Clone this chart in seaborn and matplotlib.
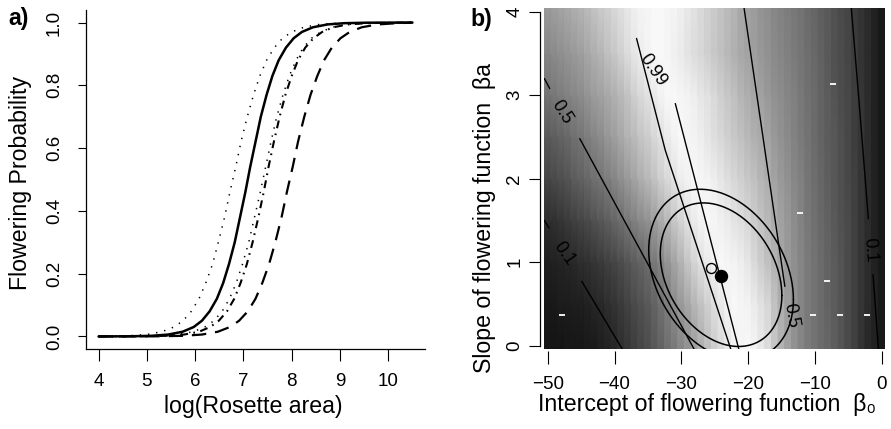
import numpy as np
import matplotlib
matplotlib.use("Agg")
import matplotlib.pyplot as plt
import seaborn as sns

sns.set_theme(style="ticks", rc={
    "axes.edgecolor": "black", "xtick.color": "black", "ytick.color": "black",
    "text.color": "black", "axes.labelcolor": "black", "axes.linewidth": 0.9,
})
plt.rcParams["font.family"] = ["Liberation Sans", "DejaVu Sans"]

# --- panel a: flowering probability curves (x where each curve reaches a level) ---
prob_levels = [0.0, 0.0005, 0.002, 0.006, 0.015, 0.03, 0.05, 0.08, 0.12, 0.17,
               0.23, 0.3, 0.38, 0.46, 0.54, 0.62, 0.7, 0.77, 0.83, 0.88,
               0.92, 0.95, 0.97, 0.985, 0.994, 0.998, 0.9995, 1.0]
x_dotted_left = [4.0, 4.11, 4.60, 4.99, 5.31, 5.56, 5.75, 5.92, 6.08, 6.22,
                 6.36, 6.48, 6.61, 6.72, 6.84, 6.95, 7.08, 7.21, 7.34, 7.48,
                 7.64, 7.81, 8.00, 8.25, 8.57, 8.96, 9.45, 10.5]
x_solid = [4.0, 4.64, 5.09, 5.44, 5.74, 5.97, 6.14, 6.30, 6.45, 6.58,
           6.70, 6.82, 6.93, 7.04, 7.14, 7.25, 7.36, 7.48, 7.60, 7.73,
           7.88, 8.04, 8.21, 8.44, 8.74, 9.09, 9.54, 10.5]
x_dotted_right = [4.0, 4.78, 5.26, 5.64, 5.96, 6.20, 6.39, 6.56, 6.71, 6.85,
                  6.98, 7.11, 7.23, 7.35, 7.46, 7.57, 7.69, 7.82, 7.95, 8.09,
                  8.24, 8.41, 8.60, 8.84, 9.16, 9.54, 10.02, 10.5]
x_dotdash = [4.0, 4.94, 5.40, 5.77, 6.08, 6.31, 6.49, 6.66, 6.81, 6.94,
             7.07, 7.19, 7.31, 7.42, 7.52, 7.63, 7.75, 7.87, 8.00, 8.13,
             8.28, 8.45, 8.63, 8.86, 9.17, 9.54, 10.0, 10.5]
x_dashed = [4.0, 5.25, 5.74, 6.14, 6.47, 6.72, 6.91, 7.09, 7.25, 7.39,
            7.53, 7.66, 7.79, 7.90, 8.02, 8.13, 8.26, 8.39, 8.53, 8.67,
            8.83, 9.01, 9.20, 9.45, 9.78, 10.18, 10.45, 10.5]

# --- panel b: grey surface (percent white), columns x=-50..0, rows y=0..4 ---
shade_x = list(range(-50, 1))
shade_y = [0, 0.5, 1, 1.5, 2, 2.5, 3, 3.5, 4]
shade = [
    [8, 8, 8, 9, 9, 9, 10, 10, 12, 13, 15, 18, 21, 24, 27, 30, 34, 38, 43, 47,
     52, 57, 62, 68, 74, 80, 85, 90, 94, 96, 97, 95, 91, 86, 78, 70, 63, 57, 52, 48,
     45, 42, 40, 37, 33, 29, 25, 20, 16, 13, 10],
    [10, 10, 11, 11, 12, 12, 13, 15, 16, 18, 20, 23, 26, 29, 32, 35, 39, 44, 49, 55,
     60, 65, 71, 76, 81, 87, 91, 95, 97, 96, 95, 92, 88, 84, 76, 68, 62, 57, 52, 48,
     45, 42, 39, 36, 33, 29, 25, 21, 17, 13, 10],
    [12, 13, 14, 15, 16, 18, 19, 21, 23, 25, 27, 30, 33, 36, 39, 42, 47, 52, 58, 64,
     70, 77, 83, 88, 92, 95, 97, 96, 95, 93, 90, 85, 80, 75, 70, 65, 60, 56, 52, 48,
     45, 42, 39, 36, 33, 29, 25, 21, 17, 13, 10],
    [18, 19, 21, 23, 25, 27, 29, 32, 34, 37, 40, 43, 47, 50, 54, 57, 62, 67, 72, 78,
     83, 88, 92, 95, 97, 96, 94, 92, 89, 87, 84, 80, 76, 72, 67, 63, 59, 55, 51, 47,
     44, 41, 38, 35, 32, 29, 25, 21, 17, 13, 10],
    [27, 29, 31, 33, 36, 38, 41, 44, 46, 49, 52, 56, 60, 64, 68, 72, 76, 81, 85, 89,
     93, 95, 97, 96, 95, 93, 90, 87, 84, 81, 78, 75, 71, 68, 64, 60, 57, 53, 50, 46,
     43, 40, 37, 34, 31, 28, 25, 21, 17, 13, 10],
    [35, 37, 39, 41, 44, 46, 49, 52, 55, 59, 62, 66, 70, 73, 77, 80, 84, 88, 92, 95,
     97, 96, 95, 93, 90, 87, 84, 81, 78, 75, 72, 69, 67, 64, 60, 57, 54, 51, 48, 45,
     42, 39, 36, 34, 31, 28, 24, 21, 17, 13, 10],
    [45, 47, 49, 51, 53, 55, 58, 61, 63, 66, 69, 72, 76, 81, 85, 88, 92, 95, 97, 97,
     96, 95, 93, 90, 88, 85, 81, 78, 75, 71, 68, 65, 63, 60, 57, 55, 52, 50, 47, 44,
     42, 39, 36, 33, 30, 28, 24, 21, 17, 13, 10],
    [52, 54, 56, 58, 60, 62, 65, 68, 71, 75, 78, 82, 86, 90, 93, 95, 97, 97, 96, 94,
     92, 89, 86, 84, 81, 78, 75, 72, 69, 66, 64, 62, 59, 57, 54, 52, 50, 48, 46, 43,
     41, 38, 35, 32, 30, 27, 24, 20, 17, 13, 10],
    [60, 62, 64, 66, 68, 70, 73, 76, 79, 81, 84, 87, 90, 93, 95, 96, 97, 97, 96, 95,
     93, 91, 88, 85, 82, 79, 76, 73, 70, 66, 63, 61, 58, 56, 53, 51, 49, 47, 45, 42,
     40, 37, 35, 32, 29, 27, 23, 20, 17, 13, 10],
]

# contour lines (x list, y list) and their labels (text, x, y, angle)
contour_lines = [
    ([-50.5, -49.7], [3.20, 3.08]),
    ([-45.2, -28.1], [2.48, -0.04]),
    ([-36.7, -32.4, -22.6], [3.68, 2.34, -0.04]),
    ([-30.9, -21.4], [2.90, -0.04]),
    ([-20.6, -14.5], [4.04, 0.71]),
    ([-50.5, -49.8], [1.50, 1.41]),
    ([-44.9, -38.85], [0.77, -0.04]),
    ([-4.55, -3.35, -2.0], [4.04, 2.88, 1.52]),
    ([-1.3, -0.5], [0.85, -0.04]),
]
contour_labels = [("0.5", -47.9, 2.80, -58), ("0.99", -34.3, 3.30, -56),
                  ("0.5", -13.6, 0.36, -80), ("0.1", -47.6, 1.10, -55),
                  ("0.1", -1.8, 1.15, -85)]

# confidence ellipses: centre, sd-like half widths, correlation, two radii
ell_center = (-24.05, 0.85)
ell_sx, ell_sy, ell_rho = 9.1, 0.86, -0.29
ell_scales = [1.0, 1.19]

mle_point = (-24.05, 0.835)
alt_point = (-25.55, 0.935)
tick_x = [-47.9, -12.3, -10.3, -8.2, -7.25, -6.24, -2.25]
tick_y = [0.37, 1.59, 0.37, 0.775, 3.13, 0.37, 0.37]

fig = plt.figure(figsize=(8.91, 4.29), dpi=100)

# ---------------- panel a ----------------
ax_a = fig.add_axes([86 / 891, 1 - 349 / 429, 339 / 891, 339 / 429])
sns.lineplot(x=x_dotted_left, y=prob_levels, ax=ax_a, color="black", lw=1.1,
             linestyle=(0, (0.9, 4.5)))
sns.lineplot(x=x_dotted_right, y=prob_levels, ax=ax_a, color="black", lw=1.1,
             linestyle=(0, (0.9, 4.5)))
sns.lineplot(x=x_dotdash, y=prob_levels, ax=ax_a, color="black", lw=1.5,
             linestyle=(0, (3.8, 2.6, 0.8, 2.6)))
sns.lineplot(x=x_dashed, y=prob_levels, ax=ax_a, color="black", lw=1.6,
             linestyle=(0, (6.5, 4.0)))
sns.lineplot(x=x_solid, y=prob_levels, ax=ax_a, color="black", lw=1.8)

ax_a.set_xlim(3.74, 10.76)
ax_a.set_ylim(-0.04, 1.04)
ax_a.set_xticks(range(4, 11))
ax_a.set_yticks([0, 0.2, 0.4, 0.6, 0.8, 1.0])
ax_a.set_yticklabels(["0.0", "0.2", "0.4", "0.6", "0.8", "1.0"])
ax_a.set_xlabel("")
ax_a.set_ylabel("")
ax_a.spines["top"].set_visible(False)
ax_a.spines["right"].set_visible(False)
ax_a.tick_params(axis="x", length=8.6, width=0.8, pad=9, labelsize=13.5)
ax_a.tick_params(axis="y", length=5.6, width=0.8, pad=11, labelsize=13.5,
                 labelrotation=90)
for lab in ax_a.get_yticklabels():
    lab.set_va("center")

# ---------------- panel b ----------------
ax_b = fig.add_axes([544.3 / 891, 1 - 349 / 429, 340.7 / 891, 340.6 / 429])
grey = np.repeat(np.array(shade) / 100.0, 2, axis=1)
xv = np.repeat(np.array(shade_x, dtype=float), 2)
xv[0::2] -= 0.5
xv[1::2] += 0.499
yv = np.array(shade_y, dtype=float)
yv[0], yv[-1] = -0.04, 4.04
ax_b.pcolormesh(xv, yv, grey, shading="gouraud", cmap="gray", vmin=0, vmax=1)

for xs, ys in contour_lines:
    ax_b.plot(xs, ys, color="black", lw=1.0)
for txt, tx, ty, ang in contour_labels:
    ax_b.text(tx, ty, txt, rotation=ang, rotation_mode="anchor",
              ha="center", va="center", fontsize=13)

t = np.linspace(0, 2 * np.pi, 300)
cov = np.array([[ell_sx ** 2, ell_rho * ell_sx * ell_sy],
                [ell_rho * ell_sx * ell_sy, ell_sy ** 2]])
chol = np.linalg.cholesky(cov)
for k in ell_scales:
    pts = k * chol @ np.vstack([np.cos(t), np.sin(t)])
    ax_b.plot(ell_center[0] + pts[0], ell_center[1] + pts[1], color="black", lw=1.1)

ax_b.plot(*alt_point, marker="o", ms=7.2, mfc="none", mec="black", mew=1.0)
ax_b.plot(*mle_point, marker="o", ms=8.6, color="black")
ax_b.plot(tick_x, tick_y, ls="none", marker="_", ms=4.5, mew=1.3, color="white")

ax_b.set_xlim(-50.51, 0.49)
ax_b.set_ylim(-0.04, 4.04)
ax_b.set_xticks([-50, -40, -30, -20, -10, 0])
ax_b.set_yticks([0, 1, 2, 3, 4])
for side in ["top", "right", "bottom"]:
    ax_b.spines[side].set_visible(False)
ax_b.spines["left"].set_position(("outward", 3))
ax_b.spines["left"].set_bounds(0, 4)
ax_b.spines["bottom"].set_position(("outward", 1.2))
ax_b.tick_params(axis="x", length=9, width=0.8, pad=9, labelsize=13.5)
ax_b.tick_params(axis="y", length=8, width=0.8, pad=4, labelsize=13.5,
                 labelrotation=90)
for lab in ax_b.get_yticklabels():
    lab.set_va("center")

# ---------------- titles / labels ----------------
fig.text(8 / 891, 1 - 7 / 429, "a)", fontsize=16.7, fontweight="bold", va="top")
fig.text(470 / 891, 1 - 8 / 429, "b)", fontsize=16.7, fontweight="bold", va="top")
fig.text(21 / 891, 1 - 182.5 / 429, "Flowering Probability", rotation=90,
         ha="center", va="center", fontsize=16.7)
fig.text(253 / 891, 1 - 407 / 429, "log(Rosette area)", ha="center", va="center",
         fontsize=16.7)
fig.text(484 / 891, 1 - 218.5 / 429, "Slope of flowering function  βa", rotation=90,
         ha="center", va="center", fontsize=16.7)
fig.text(706.5 / 891, 1 - 405 / 429, "Intercept of flowering function  β₀",
         ha="center", va="center", fontsize=16.7)

fig.savefig("out.png", dpi=100)
